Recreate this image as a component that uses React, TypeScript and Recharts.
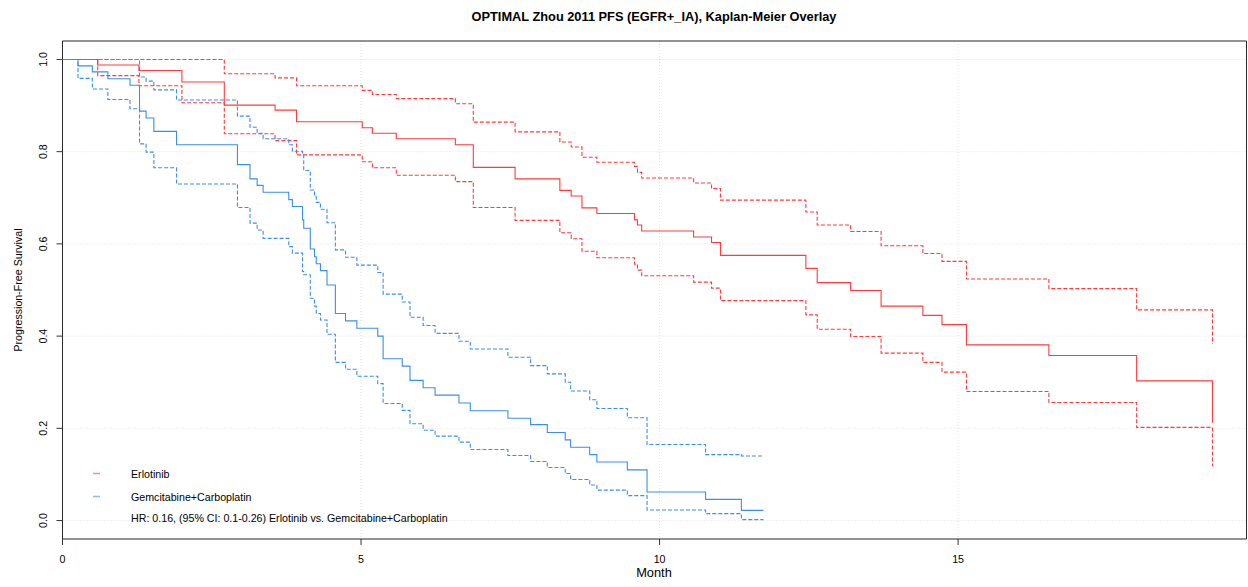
import React from 'react';
import { LineChart, Line, XAxis, YAxis, CartesianGrid, ReferenceArea } from 'recharts';

// Erlotinib arm: KM estimate with 95% CI bounds, one value per event time
const erlotinibMonths = [0, 0.59, 1.28, 2.0, 2.71, 3.56, 3.92, 5.02, 5.19, 5.59, 6.58, 6.88, 7.58, 8.33, 8.52, 8.7, 8.95, 9.58, 9.63, 9.7, 10.57, 10.87, 11.02, 12.45, 12.64, 13.2, 13.71, 14.41, 14.73, 15.14, 16.52, 17.99, 19.26];
const erlotinibSurv = [1, 0.988, 0.976, 0.951, 0.901, 0.89, 0.865, 0.852, 0.84, 0.828, 0.815, 0.766, 0.741, 0.716, 0.704, 0.678, 0.666, 0.652, 0.641, 0.628, 0.615, 0.603, 0.575, 0.547, 0.516, 0.499, 0.465, 0.445, 0.425, 0.381, 0.358, 0.303, 0.212];
const erlotinibUpper = [1, 1, 1, 1, 0.969, 0.96, 0.943, 0.933, 0.924, 0.915, 0.904, 0.864, 0.843, 0.821, 0.81, 0.788, 0.777, 0.768, 0.755, 0.743, 0.732, 0.72, 0.695, 0.669, 0.641, 0.627, 0.596, 0.579, 0.562, 0.524, 0.503, 0.457, 0.383];
const erlotinibLower = [1, 0.965, 0.943, 0.906, 0.839, 0.824, 0.793, 0.778, 0.765, 0.749, 0.735, 0.679, 0.651, 0.624, 0.611, 0.584, 0.57, 0.556, 0.543, 0.531, 0.517, 0.504, 0.477, 0.446, 0.415, 0.399, 0.363, 0.343, 0.322, 0.28, 0.256, 0.202, 0.118];

// Gemcitabine+Carboplatin arm
const gemcarboMonths = [0, 0.26, 0.5, 0.76, 1.13, 1.29, 1.4, 1.53, 1.91, 2.93, 3.14, 3.26, 3.36, 3.79, 3.85, 4.02, 4.04, 4.15, 4.22, 4.25, 4.32, 4.43, 4.57, 4.74, 4.93, 5.28, 5.37, 5.69, 5.82, 6.04, 6.24, 6.64, 6.83, 7.46, 7.84, 8.12, 8.42, 8.51, 8.83, 8.95, 9.46, 9.79, 10.77, 11.37, 11.74];
const gemcarboSurv = [1, 0.986, 0.973, 0.958, 0.944, 0.888, 0.873, 0.844, 0.815, 0.772, 0.741, 0.727, 0.712, 0.696, 0.681, 0.652, 0.634, 0.589, 0.572, 0.557, 0.542, 0.511, 0.449, 0.433, 0.417, 0.4, 0.351, 0.335, 0.304, 0.288, 0.272, 0.255, 0.238, 0.222, 0.208, 0.191, 0.175, 0.159, 0.143, 0.127, 0.11, 0.062, 0.046, 0.022, 0.022];
const gemcarboUpper = [1, 1, 1, 1, 1, 0.962, 0.953, 0.934, 0.912, 0.877, 0.853, 0.84, 0.828, 0.815, 0.801, 0.793, 0.759, 0.717, 0.703, 0.69, 0.675, 0.646, 0.587, 0.571, 0.554, 0.538, 0.491, 0.474, 0.441, 0.423, 0.406, 0.389, 0.372, 0.354, 0.336, 0.318, 0.3, 0.281, 0.262, 0.243, 0.223, 0.165, 0.143, 0.14, 0.14];
const gemcarboLower = [1, 0.959, 0.936, 0.913, 0.893, 0.817, 0.799, 0.765, 0.73, 0.679, 0.645, 0.63, 0.612, 0.594, 0.58, 0.54, 0.533, 0.482, 0.465, 0.449, 0.435, 0.404, 0.343, 0.328, 0.313, 0.297, 0.254, 0.239, 0.21, 0.196, 0.183, 0.17, 0.154, 0.141, 0.128, 0.115, 0.102, 0.089, 0.077, 0.066, 0.054, 0.023, 0.015, 0.002, 0.002];

const monthTicks = [0, 5, 10, 15];
const survTicks = [0, 0.2, 0.4, 0.6, 0.8, 1.0];
const armLabels = ['Erlotinib', 'Gemcitabine+Carboplatin'];
const hrText = 'HR: 0.16, (95% CI: 0.1-0.26) Erlotinib vs. Gemcitabine+Carboplatin';

const RED = '#ff3b3b';
const BLUE = '#3b8fe6';
const FONT = '"Liberation Sans", Arial, Helvetica, sans-serif';

const toPoints = (months: number[], vals: number[]) => months.map((t, i) => ({ t, s: vals[i] }));

const curves = [
  { key: 'erl-est', data: toPoints(erlotinibMonths, erlotinibSurv), color: RED, dash: undefined },
  { key: 'erl-lo', data: toPoints(erlotinibMonths, erlotinibLower), color: RED, dash: '4 2' },
  { key: 'erl-hi', data: toPoints(erlotinibMonths, erlotinibUpper), color: RED, dash: '4 2' },
  { key: 'gc-est', data: toPoints(gemcarboMonths, gemcarboSurv), color: BLUE, dash: undefined },
  { key: 'gc-lo', data: toPoints(gemcarboMonths, gemcarboLower), color: BLUE, dash: '4 2' },
  { key: 'gc-hi', data: toPoints(gemcarboMonths, gemcarboUpper), color: BLUE, dash: '4 2' },
];

const SurvTick = (props: any) => {
  const { x, y, payload } = props;
  return (
    <text x={x} y={y} transform={`rotate(-90 ${x} ${y})`} textAnchor="middle" fontSize={10.67} fill="#000" fontFamily={FONT}>
      {Number(payload.value).toFixed(1)}
    </text>
  );
};

export default function App() {
  return (
    <div style={{ position: 'absolute', left: 0, top: 0, width: 1248, height: 587, background: '#fff' }}>
      <LineChart width={1248} height={587} margin={{ top: 41, right: 1.5, bottom: 0, left: 0 }} style={{ fontFamily: FONT }}>
        <CartesianGrid stroke="#e2e2e2" strokeDasharray="1 2" />
        <XAxis
          type="number"
          dataKey="t"
          domain={[0, 19.83]}
          ticks={monthTicks}
          allowDataOverflow
          height={48}
          tickSize={6}
          tickMargin={10}
          axisLine={false}
          tickLine={{ stroke: '#333' }}
          tick={{ fontSize: 10.67, fill: '#000' }}
        />
        <YAxis
          type="number"
          dataKey="s"
          domain={[-0.04, 1.04]}
          ticks={survTicks}
          allowDataOverflow
          width={62.5}
          tickSize={6}
          tickMargin={9.5}
          axisLine={false}
          tickLine={{ stroke: '#333' }}
          tick={<SurvTick />}
        />
        {curves.map((c) => (
          <Line
            key={c.key}
            data={c.data}
            dataKey="s"
            type="stepAfter"
            stroke={c.color}
            strokeWidth={1.1}
            strokeDasharray={c.dash}
            dot={false}
            activeDot={false}
            isAnimationActive={false}
          />
        ))}
        <ReferenceArea x1={0} x2={19.83} y1={-0.04} y2={1.04} fill="none" stroke="#2a2a2a" strokeWidth={1} ifOverflow="visible" />
        <text x={654} y={21} textAnchor="middle" fontSize={12.8} fontWeight="bold" fill="#000" fontFamily={FONT}>
          OPTIMAL Zhou 2011 PFS (EGFR+_IA), Kaplan-Meier Overlay
        </text>
        <text x={654} y={577} textAnchor="middle" fontSize={12.8} fill="#000" fontFamily={FONT}>
          Month
        </text>
        <text x={22} y={290} transform="rotate(-90 22 290)" textAnchor="middle" fontSize={10.67} fill="#000" fontFamily={FONT}>
          Progression-Free Survival
        </text>
        {/* legend */}
        <line x1={93} x2={100} y1={473.5} y2={473.5} stroke={RED} strokeOpacity={0.6} strokeWidth={1.5} />
        <text x={131} y={477.5} fontSize={10.67} fill="#000" fontFamily={FONT}>{armLabels[0]}</text>
        <line x1={93} x2={100} y1={496.5} y2={496.5} stroke={BLUE} strokeOpacity={0.6} strokeWidth={1.5} />
        <text x={131} y={500.5} fontSize={10.67} fill="#000" fontFamily={FONT}>{armLabels[1]}</text>
        <text x={131} y={522} fontSize={10.67} fill="#000" fontFamily={FONT}>{hrText}</text>
      </LineChart>
    </div>
  );
}
